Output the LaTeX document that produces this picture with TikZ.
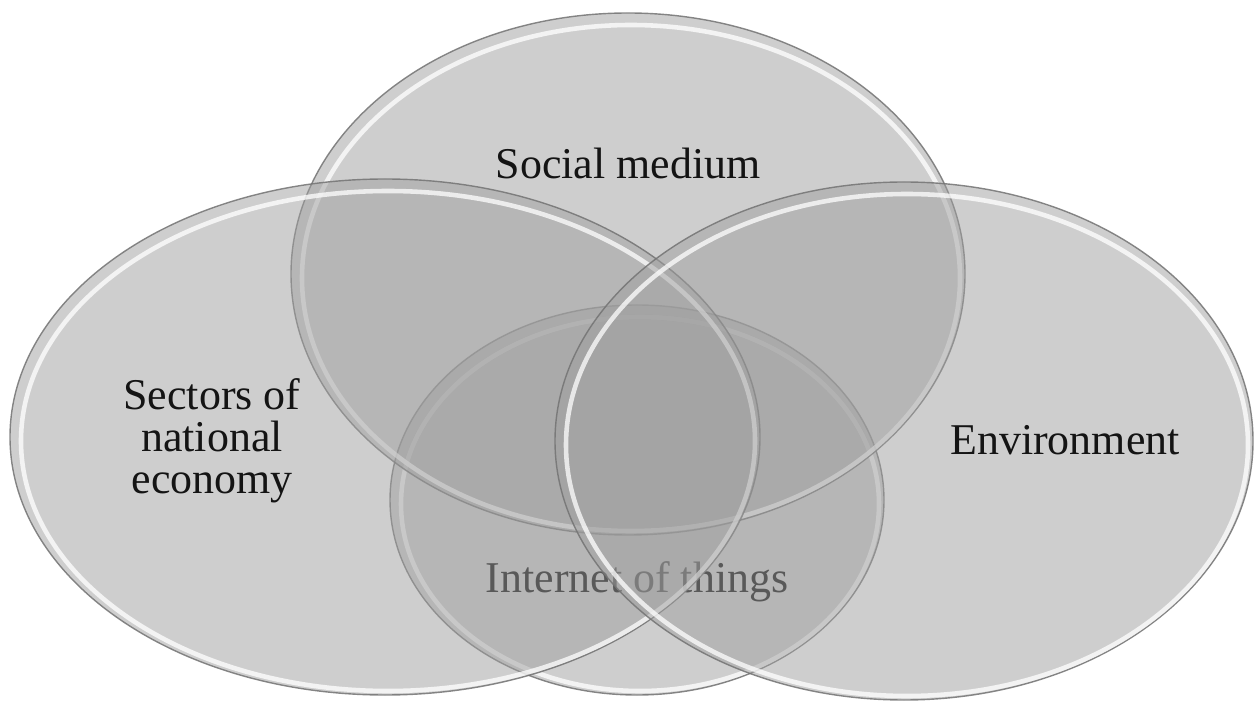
\documentclass[tikz,border=0pt]{standalone}
\usepackage{fontspec}
\setmainfont{Liberation Serif}
\usepackage{tikz}

\begin{document}
\begin{tikzpicture}[
      x=0.02cm, y=0.02cm,
      disc/.style={fill=black!38, fill opacity=0.5, draw=black!55, draw opacity=0.85, line width=0.8pt},
      shine/.style={draw=white, line width=2.6pt, opacity=0.75},
      lbl/.style={font=\fontsize{25}{24}\selectfont, align=center, text=black!92, inner sep=0pt}
    ]
      \useasboundingbox (0,0) rectangle (1256,703);

      % Internet of things (lowest layer, its label sits under the others)
      \draw[disc] (637,203) ellipse [x radius=247, y radius=195];
      \draw[shine] (640,199) ellipse [x radius=239, y radius=187];
      \node[lbl] (iot) at (637,121) {Internet of things};

      % Social medium
      \draw[disc] (628,429) ellipse [x radius=337, y radius=261];
      \draw[shine] (631,425) ellipse [x radius=329, y radius=253];
      \node[lbl] (social) at (628,540) {Social medium};

      % Sectors of national economy
      \draw[disc] (385,266) ellipse [x radius=375, y radius=258];
      \draw[shine] (388,262) ellipse [x radius=367, y radius=250];
      \node[lbl] (sectors) at (212,262) {Sectors of\\national\\economy};

      % Environment
      \draw[disc] (904,262) ellipse [x radius=349, y radius=259];
      \draw[shine] (907,258) ellipse [x radius=341, y radius=251];
      \node[lbl] (environment) at (1065,263) {Environment};
    \end{tikzpicture}
\end{document}
